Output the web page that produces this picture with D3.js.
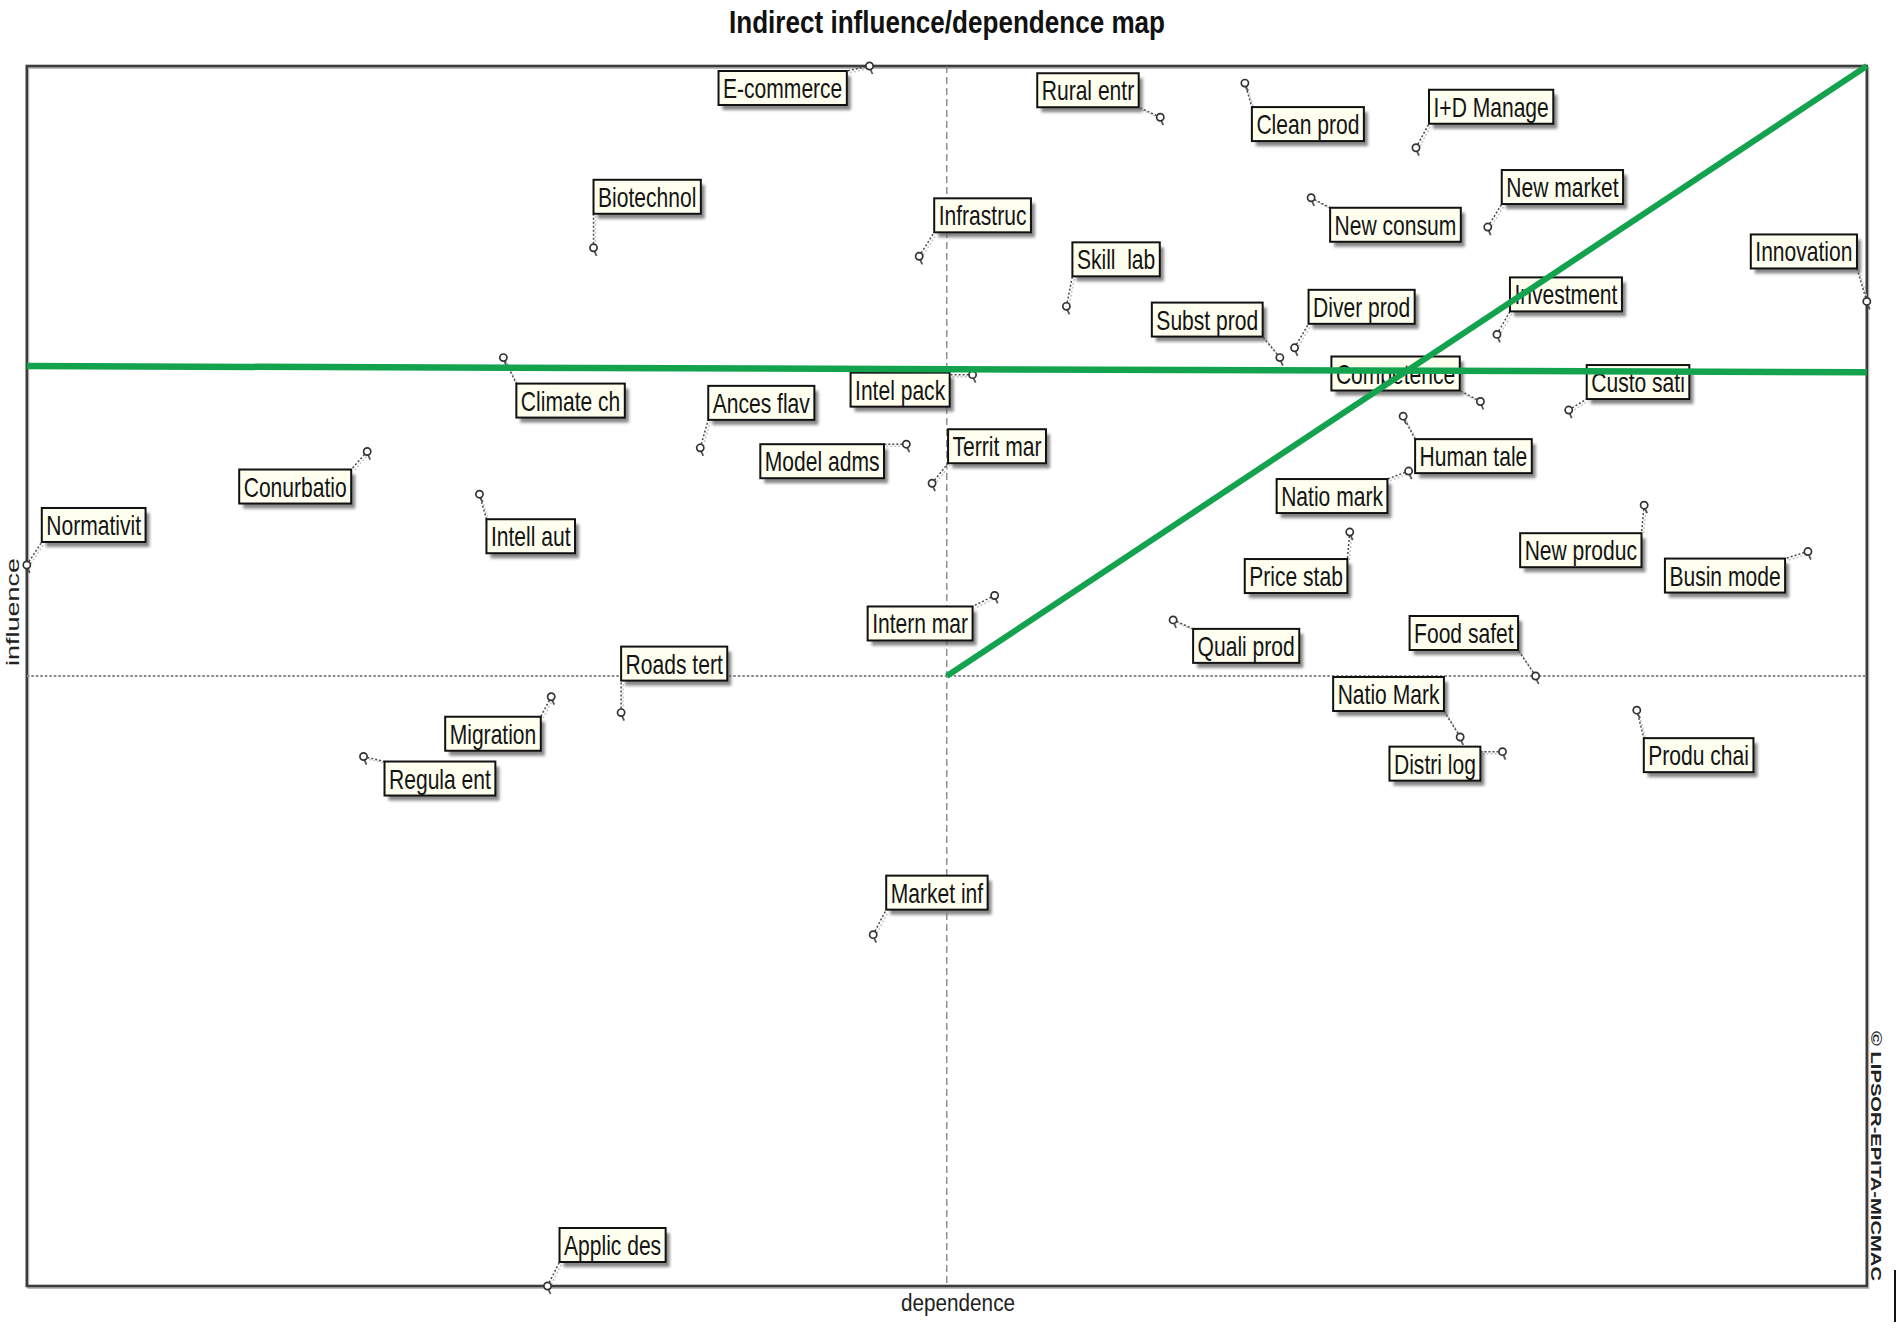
<!DOCTYPE html>
<html>
<head>
<meta charset="utf-8">
<script src="https://cdn.jsdelivr.net/npm/d3@7"></script>
<style>
	body { margin: 0; background: #fff; }
	svg { display: block; }
</style>
</head>
<body>
<svg id="svgMap"></svg>
<script>
"use strict"

//
// Data (indirect MICMAC map; axes are in % of the plot)
//
var variables = ["E-commerce", "Rural entr", "Clean prod", "I+D Manage", "Biotechnol",
	"Infrastruc", "New market", "New consum", "Skill  lab", "Innovation",
	"Subst prod", "Diver prod", "Investment", "Climate ch", "Ances flav",
	"Intel pack", "Competence", "Custo sati", "Conurbatio", "Model adms",
	"Territ mar", "Normativit", "Intell aut", "Human tale", "Natio mark",
	"New produc", "Busin mode", "Price stab", "Intern mar", "Quali prod",
	"Food safet", "Roads tert", "Natio Mark", "Migration", "Regula ent",
	"Distri log", "Produ chai", "Market inf", "Applic des"];

var dependence = [45.8, 61.6, 66.2, 75.5, 30.8,
	48.5, 79.4, 69.8, 56.5, 100.0,
	68.1, 68.9, 79.9, 25.9, 36.6,
	51.4, 79.0, 83.8, 18.5, 47.8,
	49.2, 0.0, 24.6, 74.8, 75.1,
	87.9, 96.8, 71.9, 52.6, 62.3,
	82.0, 32.3, 77.9, 28.5, 18.3,
	80.2, 87.5, 46.0, 28.3];

var influence = [100.0, 95.8, 98.6, 93.3, 85.1,
	84.4, 86.8, 89.2, 80.3, 80.7,
	76.1, 76.9, 78.0, 76.1, 68.7,
	74.7, 72.5, 71.8, 68.4, 69.0,
	65.8, 59.1, 64.9, 71.3, 66.8,
	64.0, 60.2, 61.8, 56.6, 54.6,
	50.0, 47.0, 45.0, 48.3, 43.4,
	43.8, 47.2, 28.8, 0.0];

// mean lines and the two green guide lines
var meanDependence = 50;
var meanInfluence = 50;
var guideHorizontal = [[0, 75.4], [100, 74.9]];
var guideDiagonal = [[50, 50], [100, 100]];

//
// Layout: label box top-left corner relative to its point (px)
//
var labelOffsets = [[-151, 5], [-123, -44], [7, 24], [13, -58], [0, -68],
	[15, -58], [14, -57], [19, 10], [6, -64], [-116, -67],
	[-128, -55], [14, -58], [13, -57], [13, 26], [8, -62],
	[-122, -2], [-149, -45], [18, -45], [-128, 18], [-146, 0],
	[16, -54], [15, -57], [7, 25], [12, 23], [-132, 8],
	[-124, 28], [-143, 7], [-105, 27], [-127, 11], [20, 9],
	[-126, -60], [0, -66], [-127, -60], [-106, 20], [21, 5],
	[-113, -5], [7, 28], [13, -59], [12, -58]];

var WIDTH = 1902;
var HEIGHT = 1330;
var PLOT = {left: 26.8, right: 1866.8, top: 66, bottom: 1286};
var GREEN = "#13a34f";
var FONT = "'Liberation Sans', Arial, sans-serif";
var NARROW = 0.78;
var LABEL_SIZE = 27;
var BOX_H = 34;
var BOX_PAD = 4.5;

var svg = d3.select("#svgMap")
	.attr("width", WIDTH)
	.attr("height", HEIGHT)
	;

var defs = svg.append("defs");
defs.append("filter").attr("id", "blurShadow")
	.attr("x", "-20%").attr("y", "-20%").attr("width", "140%").attr("height", "140%")
	.append("feGaussianBlur").attr("stdDeviation", 1.6)
	;

var x = d3.scaleLinear().domain([0, 100]).range([PLOT.left, PLOT.right]);
var y = d3.scaleLinear().domain([0, 100]).range([PLOT.bottom, PLOT.top]);

//
// Title and axis names
//
svg.append("text")
	.attr("x", 947).attr("y", 33)
	.attr("text-anchor", "middle")
	.attr("textLength", 436).attr("lengthAdjust", "spacingAndGlyphs")
	.style("font-family", FONT).style("font-size", "31px").style("font-weight", "bold")
	.style("fill", "#111")
	.text("Indirect influence/dependence map")
	;
svg.append("text")
	.attr("x", 958).attr("y", 1311)
	.attr("text-anchor", "middle")
	.attr("textLength", 114).attr("lengthAdjust", "spacingAndGlyphs")
	.style("font-family", FONT).style("font-size", "23px")
	.style("fill", "#222")
	.text("dependence")
	;
svg.append("text")
	.attr("transform", "translate(19,612) rotate(-90)")
	.attr("text-anchor", "middle")
	.attr("textLength", 108).attr("lengthAdjust", "spacingAndGlyphs")
	.style("font-family", FONT).style("font-size", "19px")
	.style("fill", "#222")
	.text("influence")
	;
svg.append("text")
	.attr("transform", "translate(1871,1156) rotate(90)")
	.attr("text-anchor", "middle")
	.attr("textLength", 250).attr("lengthAdjust", "spacingAndGlyphs")
	.style("font-family", FONT).style("font-size", "15px").style("font-weight", "bold")
	.style("fill", "#222")
	.text("\u00A9 LIPSOR-EPITA-MICMAC")
	;
svg.append("line")
	.attr("x1", 1895).attr("x2", 1895).attr("y1", 1270).attr("y2", 1322)
	.attr("stroke", "#111").attr("stroke-width", 2)
	;

//
// Frame and mean lines
//
var gPlot = svg.append("g").attr("id", "gPlot");
gPlot.append("rect")
	.attr("x", x(0) + 1.5).attr("y", y(100) + 2)
	.attr("width", x(100) - x(0)).attr("height", y(0) - y(100))
	.attr("fill", "none").attr("stroke", "#bbb").attr("stroke-width", 2)
	;
gPlot.append("rect")
	.attr("x", x(0)).attr("y", y(100))
	.attr("width", x(100) - x(0)).attr("height", y(0) - y(100))
	.attr("fill", "none").attr("stroke", "#3c3c3c").attr("stroke-width", 2.6)
	;
gPlot.append("line")
	.attr("x1", x(meanDependence)).attr("x2", x(meanDependence))
	.attr("y1", y(100)).attr("y2", y(0))
	.attr("stroke", "#777").attr("stroke-width", 1.2).attr("stroke-dasharray", "7,4")
	;
gPlot.append("line")
	.attr("x1", x(0)).attr("x2", x(100))
	.attr("y1", y(meanInfluence)).attr("y2", y(meanInfluence))
	.attr("stroke", "#888").attr("stroke-width", 1.8).attr("stroke-dasharray", "2.5,2")
	;

//
// Points, leader lines and label boxes
//
var items = variables.map(function(name, i) {
	return {name: name, px: x(dependence[i]), py: y(influence[i]), off: labelOffsets[i]};
});

var gItems = gPlot.selectAll("g.item").data(items).enter().append("g").attr("class", "item");

// measure text first, then size the boxes
gItems.each(function(d) {
	var g = d3.select(this);
	var bx = d.px + d.off[0];
	var by = d.py + d.off[1];
	var t = g.append("text")
		.attr("transform", "translate(" + (bx + BOX_PAD) + "," + (by + 27) + ") scale(" + NARROW + ",1)")
		.style("font-family", FONT).style("font-size", LABEL_SIZE + "px")
		.style("white-space", "pre")
		.style("fill", "#141414")
		.text(d.name)
		;
	var bw = t.node().getComputedTextLength() * NARROW + 2 * BOX_PAD;
	d.box = {x: bx, y: by, w: bw, h: BOX_H};
	t.remove();
});

function nearestOnBox(d) {
	var b = d.box;
	return [Math.max(b.x, Math.min(d.px, b.x + b.w)), Math.max(b.y, Math.min(d.py, b.y + b.h))];
}

// leader shadows and leaders
gItems.append("line")
	.attr("x1", function(d) { return d.px + 2; })
	.attr("y1", function(d) { return d.py + 2; })
	.attr("x2", function(d) { return nearestOnBox(d)[0] + 2; })
	.attr("y2", function(d) { return nearestOnBox(d)[1] + 2; })
	.attr("stroke", "#c4c4c4").attr("stroke-width", 1.5).attr("stroke-dasharray", "2,2")
	;
gItems.append("line")
	.attr("x1", function(d) { return d.px; })
	.attr("y1", function(d) { return d.py; })
	.attr("x2", function(d) { return nearestOnBox(d)[0]; })
	.attr("y2", function(d) { return nearestOnBox(d)[1]; })
	.attr("stroke", "#4a4a4a").attr("stroke-width", 1.5).attr("stroke-dasharray", "2,2")
	;

// box shadow, box, text
gItems.append("rect")
	.attr("x", function(d) { return d.box.x + 4; })
	.attr("y", function(d) { return d.box.y + 5; })
	.attr("width", function(d) { return d.box.w; })
	.attr("height", function(d) { return d.box.h; })
	.attr("fill", "#5e5e5e").attr("opacity", 0.75)
	.attr("filter", "url(#blurShadow)")
	;
gItems.append("rect")
	.attr("x", function(d) { return d.box.x; })
	.attr("y", function(d) { return d.box.y; })
	.attr("width", function(d) { return d.box.w; })
	.attr("height", function(d) { return d.box.h; })
	.attr("fill", "#fffff0").attr("stroke", "#111").attr("stroke-width", 2)
	;
gItems.append("text")
	.attr("transform", function(d) {
		return "translate(" + (d.box.x + BOX_PAD) + "," + (d.box.y + 27) + ") scale(" + NARROW + ",1)";
	})
	.style("font-family", FONT).style("font-size", LABEL_SIZE + "px")
	.style("white-space", "pre")
	.style("fill", "#141414")
	.text(function(d) { return d.name; })
	;

// point markers: small ring with a short tail
gItems.append("line")
	.attr("x1", function(d) { return d.px + 1; })
	.attr("y1", function(d) { return d.py + 3.5; })
	.attr("x2", function(d) { return d.px + 3; })
	.attr("y2", function(d) { return d.py + 8; })
	.attr("stroke", "#555").attr("stroke-width", 1.8)
	;
gItems.append("circle")
	.attr("cx", function(d) { return d.px; })
	.attr("cy", function(d) { return d.py; })
	.attr("r", 3.6)
	.attr("fill", "#fff").attr("stroke", "#333").attr("stroke-width", 1.7)
	;

//
// Green guide lines on top
//
var guide = d3.line()
	.x(function(p) { return x(p[0]); })
	.y(function(p) { return y(p[1]); })
	;
gPlot.append("path")
	.attr("d", guide(guideHorizontal))
	.attr("fill", "none").attr("stroke", GREEN).attr("stroke-width", 6.5)
	;
gPlot.append("path")
	.attr("d", guide(guideDiagonal))
	.attr("fill", "none").attr("stroke", GREEN).attr("stroke-width", 6)
	;
</script>
</body>
</html>
